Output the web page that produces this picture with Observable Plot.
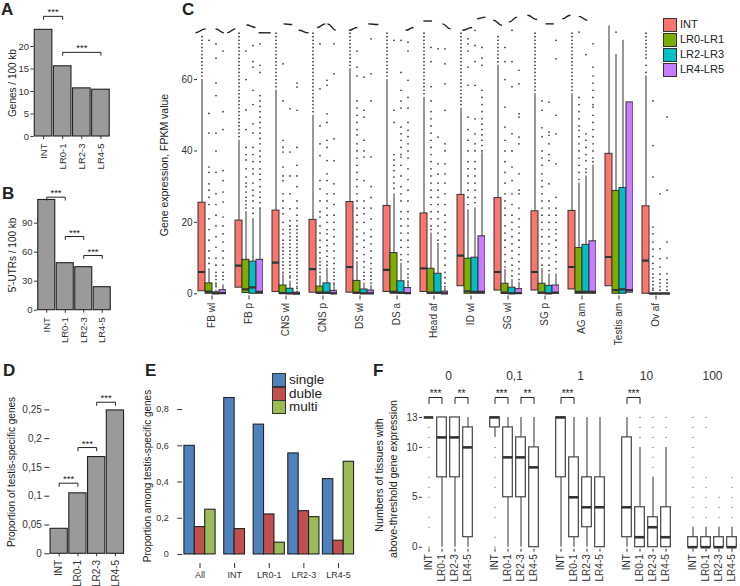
<!DOCTYPE html>
<html><head><meta charset="utf-8">
<script src="https://cdn.jsdelivr.net/npm/d3@7"></script>
<script src="https://cdn.jsdelivr.net/npm/@observablehq/plot@0.6"></script>
<style>
body{margin:0;background:#fff;}
#root{position:relative;width:740px;height:586px;overflow:hidden;background:#fff;
 font-family:"Liberation Sans Narrow","Arial Narrow","Liberation Sans",Arial,sans-serif;color:#222;}
#root svg text[transform*="rotate"]{font-family:"Liberation Sans",Arial,sans-serif;}
#pf g[aria-label^="fx-axis"] text{font-size:12px;font-family:"Liberation Sans",Arial,sans-serif;}
.lab{position:absolute;font-family:"Liberation Sans",Arial,sans-serif;font-weight:bold;font-size:17px;line-height:17px;}
.rt{position:absolute;white-space:nowrap;font-family:"Liberation Sans",Arial,sans-serif;line-height:1;transform:translate(-50%,-50%) rotate(-90deg);}
.lg{position:absolute;white-space:nowrap;line-height:1;}
.sw{position:absolute;box-sizing:border-box;border:1px solid #333;}
</style></head>
<body><div id="root"></div>
<script>
const FONT='"Liberation Sans Narrow","Arial Narrow","Liberation Sans",Arial,sans-serif';
const comma=d=>String(d).replace(".",",");

// ---------- A, B, D ----------
const lrLabels=["INT","LR0-1","LR2-3","LR4-5"];
const genesPer100kb=[23.7,15.6,10.7,10.4];
const utrsPer100kb=[114,48.6,44.5,23.8];
const testisShare=[0.0434,0.105,0.168,0.249];
const sigA=[[0,1,26.7,"***"],[1,3,18.7,"***"]];
const sigB=[[0,1,116.9,"***"],[1,2,76.2,"***"],[2,3,56.6,"***"]];
const sigD=[[0,1,0.1226,"***"],[1,2,0.1845,"***"],[2,3,0.2632,"***"]];

// ---------- C ----------
const tissues=["FB wl","FB p","CNS wl","CNS p","DS wl","DS a","Head af","ID wl","SG wl","SG p","AG am","Testis am","Ov af"];
const classesC=["INT","LR0-LR1","LR2-LR3","LR4-LR5"];
const colorsC=["#F8766D","#7CAE00","#00BFC4","#C77CFF"];
// [q1, median, q3, upper whisker]
const statsINT=[[0.7,6.1,25.5,60],[1.7,7.9,20.5,43],[0.5,8.7,23.3,57],[0.3,6.9,20.7,50],[0.3,7.5,25.7,63],[0.5,6.7,24.6,60],[0.5,7.1,22.5,55],[2.1,10.7,27.7,52],[0.9,6.1,26.8,64],[0.9,6.1,23.1,56],[1.2,7.5,23.2,56],[2.1,10.3,39.2,80],[0,9.3,24.5,61]];
const statsLR01=[[0,0.6,2.9,7],[0.2,1.2,9.5,23],[0,0.2,2.3,5.5],[0,0.3,2.0,5],[0,0.3,3.6,9],[0,0.5,11.4,28],[0,0.3,7.0,17],[0,0.7,9.8,23.5],[0,0.3,2.8,6.8],[0,0.3,2.8,7],[0,0.5,12.8,31],[0,1.0,28.8,67],[0,0,0.1,0.3]];
const statsLR23=[[0,0.1,0.4,1],[0,1.8,9.0,21],[0,0.1,1.4,3.5],[0,0.3,2.9,7.2],[0,0.1,1.2,3],[0,0.3,3.5,8.5],[0,0.3,5.6,13.6],[0,0.5,10.1,24],[0,0.1,1.7,4],[0,0.1,2.2,5.5],[0,0.5,13.7,33],[0,1.2,29.6,71],[0,0,0.1,0.2]];
const statsLR45=[[0,0.2,1.0,2.5],[0,0.5,9.5,23.7],[0,0,0.3,0.8],[0,0.1,0.8,2],[0,0.1,0.9,2.3],[0,0.2,1.6,3.7],[0,0.1,0.6,1.5],[0,0.5,16.1,39.5],[0,0.2,1.3,3.2],[0,0.3,2.3,5.5],[0,0.5,14.7,36],[0.3,1.0,53.6,53.6],[0,0,0.1,0.2]];
const outINT=["61 62 63 64 65 66 67 68 69 70 71 72","44 45 46 47 48 49 50 51 52 53 54 55 56 57 58 59 60 61 62 63 64 65 66 67 68 69 70 71 72 73","58 59 60 61 62 63 64 65 66 67 68 69 70 71 72 73","51 52 53 54 55 56 57 58 59 60 61 62 63 64 65 66 67 68 69 70 71 72 73","64 65 66 67 68 69 70 71 72 73","61 62 63 64 65 66 67 68 69 70 71 72 73","56 57 58 59 60 61 62 63 64 65 66 67 68 69 70 71 72 73","53 54 55 56 57 58 59 60 61 62 63 64 65 66 67 68 69 70 71 72 73","65 66 67 68 69 70 71 72","57 58 59 60 61 62 63 64 65 66 67 68 69 70 71 72 73","57 58 59 60 61 62 63 64 65 66 67 68 69 70 71 72 73","","62 64 66 67 68 69 70 71 72 73"];
const outLR01=["71 50.5 45 35.5 34 30.8 29 27 25 21 18 15 12 10 8.5","68 60 51.5 46 41 39 37.5 35 32.7 31 30 28.5 27 26 25 24","64.4 54 43 41 39.7 35.5 33 31.7 28 26 24 22.4 20 18 16.8 15 14 13 12 11 10 9 8 7 6","70 57.4 47 42 38.7 31.7 29.4 26 23 21.5 19 17 15 13 11.5 10 9 8 7 6","68 63.5 61 54 52 50 48 46 44.5 42 40 38 36 34 32 30 28 26 24 22 20 18 16 14 12 10","71 51.4 48 39 37.5 36 34.5 32.7 31 29.5","69 65 58 54 51 49 47 45 43 41 39 37 35 33 31 29 27 25 23 21 19 18","71.4 70 68 63.5 58.4 49.5 46 43 40 37 35 33 31 29 27 25","69 65 60 52.3 46.7 43 40 37 34 31 28 26 24 22 19 17 15 13 11 9 7.5","54 51.4 46.5 44 40 38 36 33.6 31.7 30 28 26 24 22 20 18 16 14 12 10 8","73.3 55 53 51 49 47 45.8 44 42 40 38 36 34 32","73.3","54 41.5 32.7 18.7 16.8 14.5 12.5 10.5 8.5 7 5.5 4.5 3.5 2.5 1.5 1"];
const outLR23=["70 66 59 55.5 45 40 34 28 25 22 19 16 13 10 8 6 5 4 3 2.5 2","69.5 65 63.5 57 53 47.6 45 41 39 37 35 33.6 31 29 27.5 26 24 22.5","51.8 39.7 33 28 23.8 20.5 19 18 17 16 15 14 13 12 11 10 9 8 7 6 5 4.5","59.8 58.4 50.4 48 43 41 37.3 33.6 31.7 28 26 24 22 20 18 16.8 15 13.5 12 10.5 9 8","60.7 51.4 49.5 43 40 38.3 31.7 26 24 22.4 20 17 15 13 11 9 7.5 6 5 4","71 62 57 54 52 46.7 44.8 43 41 39 38.3 36 33 30 28 26 23 21 19 17 15 13 11 9.5","68.6 43.9 36.4 33.5 31 29 27 25 23 21 19 17 15 14","73.8 69.6 65 58.4 49 44.8 42 40 37 35 33 31 29 27 25.5","73.8 65 58 44.8 40 35.5 31.7 28 25 22 20 18 16 14 12 10 8 6.5 5","53.7 45.3 44.4 42 39 37.3 30.8 26 24 22 20 18 16 14 12 10 8 6.5","67 44.8 43 41 39 37.3 35 34","","28 12.6 9.8 7.5 5.5 4 3 2 1"];
const outLR45=["68 51 46 34.5 31.7 28.5 25.7 21.5 19 16.8 14.5 12 10 8 6 5 4","70 64 62 55.5 54 52.5 51 49.5 48 46.5 45 43.5 42 40 38.5 37 35 33.5 32 30 28.5 27 25.5 24","59 57.9 51.4 41 36 33 30 26 24 22 20.5 19 18 17 16 15 14 13 12 11 10 9 8 7 6 5 4 3 2 1.5","70 61.6 43.4 37.3 30.8 28 25 22 20 18 16 14 12 10 8.5 7 6 5 4 3 2.5","71.4 61.6 54 38.3 30 27 24 21 18 16 14 12 10 8.5 7 6 5 4 3","70.5 68 59.8 55 52 48 45.8 44 42 40 38 35 32 29 26 23 21 19 17 15 13 11 9 7 5.5 4.5","68.6 64.4 58.8 51.4 42 40 36.4 33.6 31 28 25 22 20 18 16 14 12 10 8 6 4.5 3 2","69 66 64 57 55 53 51 49 47.5 46 44.5 43 41.5 40","62.6 58.8 50.4 49.5 43.9 42 33.6 29 28 24 21 18.7 17 15 13 11 9 7 5.5 4","71 65.8 50 44.8 36.4 27 24 22 20 18 16.8 15 13 11 9 7","70 63.5 61 59 57 55 53 52.3 50 48 46 44 42 40 38 37","","49.5 29 14.5 10 5.6 4 3 2 1"];
// short wavy strokes drawn above panel C: [tissue position 1, value 1, tissue position 2, value 2]
const topStrokes=[[-0.30,73.1,-0.03,74.2],[0.23,74.2,0.45,73.1],[0.54,73.1,0.76,74.2],[1.05,75.3,1.29,74.6],[1.37,73.1,1.69,73.1],[2.03,75.6,2.26,75.4],[2.43,73.8,2.69,73.1],[2.92,74.6,3.14,75.6],[3.19,75.6,3.41,73.9],[3.76,73.8,3.98,74.6],[4.27,75.6,4.54,75.4],[5.26,73.8,5.47,74.6],[5.73,76.4,5.96,76.4],[6.23,75.6,6.45,74.2],[6.76,73.8,7.02,74.6],[7.15,77,7.37,77.5],[7.58,76.6,7.81,75.2],[7.99,76.1,8.21,77.5],[8.48,78,8.74,76.8],[8.96,75.6,9.18,75.6],[9.40,77,9.62,78],[9.84,77.7,10.07,76.6]];

// ---------- E ----------
const eGroups=["All","INT","LR0-1","LR2-3","LR4-5"];
const eKinds=["single","duble","multi"];
const eColors=["#4F81BD","#C0504D","#9BBB59"];
const eSingle=[0.60,0.864,0.717,0.558,0.416];
const eDuble=[0.151,0.14,0.221,0.239,0.076];
const eMulti=[0.247,null,0.065,0.206,0.512];

// ---------- F ----------
const thresholds=["0","0,1","1","10","100"];
// per threshold, per class: [low whisker, q1, median, q3, high whisker]
const fStats=[
 [[13,13,13,13,13],[0,7,11,13,13],[0,7,11,13,13],[0,1,10,12,13]],
 [[11,12,13,13,13],[0,5,9,12,13],[0,5,9,11,13],[0,0,8,10,13]],
 [[0,7,13,13,13],[0,1,5,9,13],[0,2,4,7,13],[0,0,4,7,13]],
 [[0,1,4,11,13],[0,0,1,4,10],[0,0,2,3,7],[0,0,1,4,10]],
 [[0,0,0,1,2],[0,0,0,1,2],[0,0,0,1,2],[0,0,0,1,2]]];
const fOut=[
 ["12 11 10 9 7 6 5 3 2 0","","",""],
 ["10 9 7 6 4 3 1 0","","",""],
 ["","","",""],
 ["","11 12 13","8 9 10 11 12 13","11 12 13"],
 ["3 4 5 6 7 8 9 10 11 12 13","3 4 5 6 7 12 13","3 4 5","3 4 5 6 7"]];
const fSig=[[0,0,1,"***"],[0,2,3,"**"],[1,0,1,"***"],[1,2,3,"**"],[2,0,1,"***"],[3,0,1,"***"]];
const fSigLevel=15;

const root=document.getElementById("root");
function put(node,left,top,id){node.style.position="absolute";node.style.left=left+"px";node.style.top=top+"px";node.style.maxWidth="none";if(id)node.id=id;root.appendChild(node);}
function html(cls,text,left,top,extra){const d=document.createElement("div");d.className=cls;d.textContent=text;d.style.left=left+"px";d.style.top=top+"px";if(extra)Object.assign(d.style,extra);root.appendChild(d);return d;}
const st=fs=>({fontFamily:FONT,fontSize:fs+"px",color:"#333",background:"transparent",overflow:"visible"});

function barPanel(o){
  const bars=o.values.map((v,i)=>({i,v}));
  const br=[];o.sig.forEach(([a,b,y],k)=>{br.push({k,x:a,y:y-o.drop},{k,x:a,y},{k,x:b,y},{k,x:b,y:y-o.drop});});
  const stars=o.sig.map(([a,b,y,s])=>({x:(a+b)/2,y,s}));
  return Plot.plot({width:o.w,height:o.h,marginLeft:o.ml,marginRight:o.mr,marginTop:o.mt,marginBottom:o.mb,style:st(o.fs),
    x:{domain:[-0.5,3.5],ticks:[0,1,2,3],tickFormat:i=>lrLabels[i],tickRotate:-90,tickSize:3,tickPadding:o.xpad,label:null},
    y:{domain:o.yDomain,ticks:o.ticks,tickFormat:o.tf,tickSize:o.ts,tickPadding:o.tp,label:null},
    marks:[
      Plot.rectY(bars,{x1:d=>d.i-0.46,x2:d=>d.i+0.46,y1:0,y2:"v",fill:"#9a9a9a",stroke:"#222",strokeWidth:1.1}),
      Plot.line(br,{x:"x",y:"y",z:"k",stroke:"#222",strokeWidth:1}),
      Plot.text(stars,{x:"x",y:"y",text:"s",dy:-4,fontSize:9.5,fill:"#222"})
    ]});
}
put(barPanel({values:genesPer100kb,sig:sigA,drop:0.67,w:120,h:175,ml:33.5,mr:10,mt:5.5,mb:39,fs:9.5,yDomain:[0,29],ticks:[0,5,10,15,20],tf:d=>d,ts:3,tp:2,xpad:4}),0,0);
put(barPanel({values:utrsPer100kb,sig:sigB,drop:3.1,w:120,h:175,ml:37,mr:9,mt:9,mb:40.3,fs:9.5,yDomain:[0,130],ticks:[0,30,60,90],tf:d=>d,ts:3,tp:2,xpad:4}),0,175);
put(barPanel({values:testisShare,sig:sigD,drop:0.0055,w:140,h:236,ml:49.3,mr:15.7,mt:36.3,mb:32.7,fs:10,yDomain:[0,0.29],ticks:[0,0.05,0.1,0.15,0.2,0.25],tf:comma,ts:5,tp:3,xpad:3}),0,350);

// ---------- C plot ----------
const statsC=[statsINT,statsLR01,statsLR23,statsLR45];
const outC=[outINT,outLR01,outLR23,outLR45];
const recsC=[];
tissues.forEach((t,i)=>classesC.forEach((c,k)=>{
  const [q1,med,q3,hi]=statsC[k][i];
  recsC.push({type:"box",tissue:t,cls:c,q1,med,q3,hi});
  outC[k][i].split(" ").filter(Boolean).forEach(v=>recsC.push({type:"out",tissue:t,cls:c,v:+v}));
}));
const isBox=d=>d.type==="box", isOut=d=>d.type==="out";
put(Plot.plot({width:520,height:345,marginLeft:29,marginRight:2.7,marginTop:25.5,marginBottom:49.6,style:st(10),
  facet:{data:recsC,x:"tissue"},
  fx:{domain:tissues,paddingInner:0.217,paddingOuter:0.066,axis:"bottom",tickRotate:-90,tickSize:4,tickPadding:3,label:null},
  x:{domain:classesC,padding:0,axis:null},
  y:{domain:[-0.6,75],ticks:[0,20,40,60],tickSize:3,tickPadding:2,label:null},
  color:{domain:classesC,range:colorsC},
  marks:[
    Plot.ruleX(recsC,{filter:isBox,x:"cls",y1:"q3",y2:"hi",stroke:"#333",strokeWidth:1,clip:true}),
    Plot.dot(recsC,{filter:isOut,x:"cls",y:"v",r:0.85,fill:"#333",clip:true}),
    Plot.barY(recsC,{filter:isBox,x:"cls",y1:"q1",y2:"q3",fill:"cls",stroke:"#333",strokeWidth:1,clip:true}),
    Plot.tickY(recsC,{filter:isBox,x:"cls",y:"med",stroke:"#333",strokeWidth:2.2,clip:true})
  ]}),160,0);
// overlay with the wavy strokes above panel C (same vertical scale, tissue positions on x)
put(Plot.plot({width:520,height:345,marginLeft:27.4,marginRight:1.2,marginTop:25.5,marginBottom:49.6,style:st(10),
  x:{domain:[-0.5,12.5],axis:null},y:{domain:[-0.6,75],axis:null},
  marks:[Plot.link(topStrokes,{x1:d=>d[0],y1:d=>d[1],x2:d=>d[2],y2:d=>d[3],stroke:"#222",strokeWidth:1.4,curve:"bump-x"})]
}),160,0);

// ---------- E plot ----------
const eRecs=[];
eGroups.forEach((g,gi)=>{
  const vals=[[eKinds[0],eSingle[gi]],[eKinds[1],eDuble[gi]],[eKinds[2],eMulti[gi]]].filter(d=>d[1]!=null);
  vals.forEach(([k,v],j)=>eRecs.push({gi,k,v,off:(j-(vals.length-1)/2)*0.3}));
});
put(Plot.plot({width:230,height:236,marginLeft:42.2,marginRight:14.7,marginTop:41,marginBottom:23,style:st(9),
  x:{domain:[-0.5,4.5],ticks:[0,1,2,3,4],tickFormat:i=>eGroups[i],tickSize:5,tickPadding:3,label:null},
  y:{domain:[-0.05,0.9],ticks:[0,0.2,0.4,0.6,0.8],tickFormat:comma,tickSize:5,tickPadding:9,label:null},
  color:{domain:eKinds,range:eColors},
  marks:[Plot.rectY(eRecs,{x1:d=>d.gi+d.off-0.15,x2:d=>d.gi+d.off+0.15,y1:0,y2:"v",fill:"k",stroke:"#222",strokeWidth:1.1})]
}),140,350);

// ---------- F plot ----------
const recsF=[];
thresholds.forEach((t,ti)=>lrLabels.forEach((c,ci)=>{
  const [lo,q1,med,q3,hi]=fStats[ti][ci];
  recsF.push({type:"box",t,i:ci,lo,q1,med,q3,hi});
  fOut[ti][ci].split(" ").filter(Boolean).forEach(v=>recsF.push({type:"out",t,i:ci,v:+v}));
}));
fSig.forEach(([ti,a,b,s],k)=>{const t=thresholds[ti],y=fSigLevel;
  [[a,y-0.6],[a,y],[b,y],[b,y-0.6]].forEach(([x,yy])=>recsF.push({type:"br",t,k,x,y:yy}));
  recsF.push({type:"star",t,x:(a+b)/2,y,s});});
put(Plot.plot({width:370,height:236,marginLeft:50.5,marginRight:1.5,marginTop:34,marginBottom:37.3,style:st(10),
  facet:{data:recsF,x:"t"},
  fx:{domain:thresholds,paddingInner:0.218,paddingOuter:0,axis:"top",tickSize:0,tickPadding:5,label:null},
  x:{domain:[-0.5,3.5],ticks:[0,1,2,3],tickFormat:i=>lrLabels[i],tickRotate:-90,tickSize:3,tickPadding:2,label:null},
  y:{domain:[-0.2,16.3],ticks:[0,5,10,13],tickSize:3,tickPadding:2,label:null},
  marks:[
    Plot.ruleX(recsF,{filter:isBox,x:"i",y1:"lo",y2:"hi",stroke:"#444",strokeWidth:1.1}),
    Plot.rectY(recsF,{filter:isBox,x1:d=>d.i-0.37,x2:d=>d.i+0.37,y1:"q1",y2:"q3",fill:"white",stroke:"#444",strokeWidth:1.2}),
    Plot.ruleY(recsF,{filter:isBox,y:"med",x1:d=>d.i-0.37,x2:d=>d.i+0.37,stroke:"#333",strokeWidth:2.6}),
    Plot.dot(recsF,{filter:isOut,x:"i",y:"v",r:0.6,fill:"#555"}),
    Plot.line(recsF,{filter:d=>d.type==="br",x:"x",y:"y",z:"k",stroke:"#222",strokeWidth:1}),
    Plot.text(recsF,{filter:d=>d.type==="star",x:"x",y:"y",text:"s",dy:-4,fontSize:10,fill:"#222"})
  ]}),370,350,"pf");

// ---------- titles, labels, legends ----------
html("rt","Genes / 100 kb",13,83,{fontSize:"10px"});
html("rt","5'-UTRs / 100 kb",13,255,{fontSize:"10px"});
html("rt","Gene expression, FPKM value",164,165,{fontSize:"10.5px"});
html("rt","Proportion of testis-specific genes",12,472,{fontSize:"10px"});
html("rt","Proportion among testis-specific genes",148,476,{fontSize:"10px"});
html("rt","Numbers of tissues with",379,475,{fontSize:"10.7px"});
html("rt","above-threshold gene expression",393,479,{fontSize:"10.7px"});
[["A",1,1],["B",2,185],["C",182,1],["D",3,362],["E",145,362],["F",373,362]].forEach(([t,x,y])=>html("lab",t,x,y));
classesC.forEach((c,i)=>{
  const s=document.createElement("div");s.className="sw";Object.assign(s.style,{left:"663px",top:(18+15*i)+"px",width:"14px",height:"14px",background:colorsC[i]});root.appendChild(s);
  html("lg",c,680,19+15*i,{fontSize:"11px"});
});
eKinds.forEach((k,i)=>{
  const s=document.createElement("div");s.className="sw";Object.assign(s.style,{left:"272px",top:(373+13.7*i)+"px",width:"14px",height:"14px",background:eColors[i]});root.appendChild(s);
  html("lg",k,289,373+13.7*i,{fontSize:"13.5px",fontFamily:'"Liberation Sans",Arial,sans-serif'});
});
</script></body></html>
